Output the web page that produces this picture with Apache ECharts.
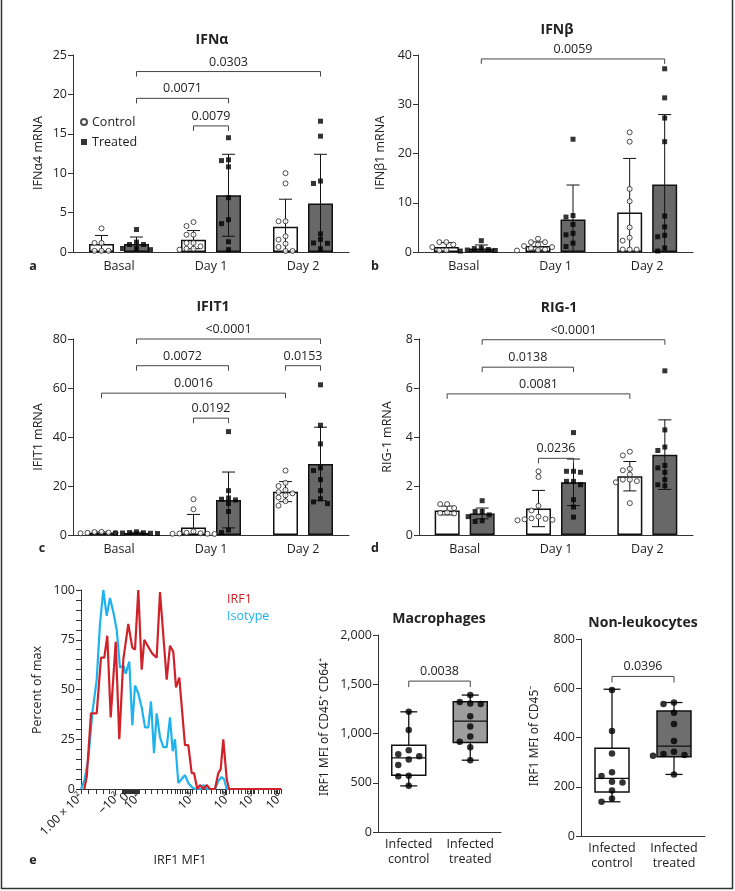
<!DOCTYPE html>
<html><head><meta charset="utf-8">
<script src="https://cdn.jsdelivr.net/npm/echarts@6/dist/echarts.min.js"></script>
<style>html,body{margin:0;padding:0;background:#fff}#c{width:735px;height:891px}</style>
</head><body><div id="c"></div>
<script>
// ---------------- DATA ----------------
const categories = ['Basal', 'Day 1', 'Day 2'];

// Panel a: IFNα
const ifnaCtrlMean = [1.0, 1.57, 3.2];
const ifnaCtrlSD   = [1.1, 1.15, 3.5];
const ifnaTrtMean  = [1.0, 7.2, 6.15];
const ifnaTrtSD    = [0.9, 5.2, 6.25];
const ifnaCtrlPts = [[3.0,1.15,1.15,0.15,0.15,0.15],[3.8,3.3,2.2,2.2,1.15,1.15,0.72,0.42,0.42,0.3],[10.0,8.7,3.9,3.9,2.0,1.57,1.06,0.64,0.13,0.13]];
const ifnaTrtPts  = [[2.85,1.25,0.95,0.95,0.45,0.45,0.3],[14.5,11.7,11.6,10.8,6.9,4.1,3.6,1.3,0.3],[16.6,14.7,9.0,8.7,2.3,1.6,1.15,1.1,0.4]];
const ifnaBrackets = [[1,0,1,1,16.0,'0.0079'],[0,1,1,1,19.5,'0.0071'],[0,1,2,1,22.9,'0.0303']];

// Panel b: IFNβ
const ifnbCtrlMean = [1.0, 1.22, 8.0];
const ifnbCtrlSD   = [0.9, 0.83, 11.0];
const ifnbTrtMean  = [0.7, 6.6, 13.7];
const ifnbTrtSD    = [0.73, 7.0, 14.2];
const ifnbCtrlPts = [[2.0,2.0,1.5,1.0,0.35,0.3],[2.7,2.0,2.0,1.5,1.2,1.0,0.8,0.5,0.4,0.3],[24.3,22.4,12.8,10.3,5.0,2.9,2.3,0.5,0.5,0.5]];
const ifnbTrtPts  = [[2.3,0.8,0.7,0.5,0.4,0.3,0.2],[22.9,7.4,7.1,5.6,3.8,3.5,1.8,1.1],[37.2,31.3,27.2,22.4,7.3,5.1,3.4,3.1,0.8,0.2]];
const ifnbBrackets = [[0,1,2,1,39.2,'0.0059']];

// Panel c: IFIT1
const ifitCtrlMean = [0.95, 3.1, 17.7];
const ifitCtrlSD   = [0.3, 5.3, 4.1];
const ifitTrtMean  = [0.85, 14.3, 29.0];
const ifitTrtSD    = [0.3, 11.4, 15.0];
const ifitCtrlPts = [[1.3,1.2,1.0,0.9,0.8,0.7],[14.6,10.5,1.5,0.9,0.7,0.6,0.5,0.5,0.4,0.4],[26.3,21.3,20.0,18.4,17.5,17.0,16.2,15.3,13.8,12.0]];
const ifitTrtPts  = [[1.3,1.0,0.9,0.8,0.7,0.7,0.6],[42.2,18.1,15.1,14.6,14.3,12.8,9.6,2.0,1.0],[61.3,44.8,37.2,27.4,26.3,22.6,18.1,14.8,13.5,12.8]];
const ifitBrackets = [[1,0,1,1,47.7,'0.0192'],[0,0,2,0,57.9,'0.0016'],[0,1,1,1,69.1,'0.0072'],[2,0,2,1,69.1,'0.0153'],[0,1,2,1,80,'<0.0001']];

// Panel d: RIG-1
const rigCtrlMean = [1.0, 1.08, 2.4];
const rigCtrlSD   = [0.18, 0.74, 0.6];
const rigTrtMean  = [0.88, 2.15, 3.28];
const rigTrtSD    = [0.22, 0.95, 1.42];
const rigCtrlPts = [[1.26,1.26,1.1,0.92,0.9,0.88],[2.6,2.37,1.19,1.0,0.75,0.68,0.66,0.64,0.62,0.6],[3.4,3.25,2.7,2.64,2.47,2.26,2.26,2.2,2.15,1.3]];
const rigTrtPts  = [[1.4,0.96,0.96,0.82,0.75,0.58,0.55],[4.18,2.6,2.6,2.56,2.19,2.19,2.05,1.44,1.14,0.73],[6.7,4.29,3.59,3.45,2.84,2.74,2.56,2.26,2.05,2.01]];
const rigBrackets = [[1,0,1,1,3.13,'0.0236'],[0,0,2,0,5.76,'0.0081'],[0,1,1,1,6.85,'0.0138'],[0,1,2,1,7.97,'<0.0001']];

// Panel e: histogram (channel position along axis, percent of max)
const irf1X = [3.3,5.7,10,15.7,20,23.3,26.3,29.7,34.7,38.3,42.3,47.3,51.3,54,57.3,60.7,63.3,66.7,71.3,75.7,79,85.7,89,92.3,95,98.3,104,107.3,110.7,113,116.3,119,122.3,125.7,129,134,137.3,139.7,142.3,145.7,148,200];
const irf1Y = [0,6,38,38,66,66,77,36,74,25,65,83,71,70,100,60,75,72,68,66,99,55,72,69,51,56,22,22,8,8,0,2,0,2,0,0,8,10,25,5,0,0];
const isoX = [0,3.3,7.3,11.3,15.7,19,22.3,25.7,29,32.3,35.7,39,42.3,44.7,48.3,51.3,54,57.3,60.7,64,67.3,70,73,75.7,79,82.3,85.7,89,91.7,94,97.3,100.7,104,107.3,110.7,114,120.7,122.3,125.7,134,137.3,140.7,143,145.7,200];
const isoY = [0,4,15,38,55,83,100,87,96,89,80,61,62,58,64,32,52,48,41,31,31,44,18,38,26,21,21,36,19,25,3,5,7,3,1,0,0,2,0,0,4,6,5,0,0];
const histLabelPos = [0, 37, 46, 58, 112, 148, 173, 200];
const histLabels = ['1.00 × 10²', '−10²', '0', '10²', '10³', '10⁴', '10⁵', '10⁶'];
const histMinorTicks = [0,7.3,15,22.3,28.3,34,64,70.7,76.3,81.7,86.3,90.7,94,96.3,99,101.7,104,106.3,109,111.7,115.7,120.7,125.7,130.7,135.7,139,141.7,144,145.7,148.3,152.3,157.3,160.7,164,166.3,169,170.7,172.3,173.3,177.3,182.3,187.3,190.7,193,195,196.3,198,200];
const histLinearRegion = [41.5, 58.5];
const histYLabels = [0, 25, 50, 75, 100];

// Panels f/g: box plots
const boxCategories = ['Infected\ncontrol', 'Infected\ntreated'];
const macroCtrlBox = [468, 576, 753, 881, 1220];   // min, q1, median, q3, max
const macroTrtBox  = [729, 908, 1125, 1322, 1390];
const macroCtrlPts = [1220, 1035, 830, 790, 770, 735, 680, 570, 565, 470];
const macroTrtPts  = [1390, 1320, 1305, 1300, 1175, 1070, 970, 915, 860, 728];
const macroBracket = [1532, '0.0038'];
const nonCtrlBox = [139, 179, 234, 356, 596];
const nonTrtBox  = [250, 322, 365, 508, 542];
const nonCtrlPts = [593, 426, 335, 259, 244, 220, 217, 185, 152, 139];
const nonTrtPts  = [542, 536, 501, 455, 386, 342, 333, 329, 326, 250];
const nonBracket = [648, '0.0396'];

// ---------------- STYLE / LAYOUT ----------------
const FONT = 'Open Sans';
const SUPFONT = 'Noto Sans';
const AX = '#333';
const TXT = '#222';
const BAR_W = 25, BAR_GAP = 0.4;
const TRT_FILL = '#686868';

const chart = echarts.init(document.getElementById('c'), null, {renderer: 'canvas', width: 735, height: 891});
const grids = [], xAxes = [], yAxes = [], series = [], graphic = [];

function yAxisDef(gi, max, interval, fmt) {
  return {type: 'value', gridIndex: gi, min: 0, max: max, interval: interval,
    axisLine: {show: true, lineStyle: {color: AX, width: 1}},
    axisTick: {show: true, length: 5, lineStyle: {color: AX}},
    axisLabel: {fontSize: 12.5, color: TXT, fontFamily: FONT, margin: 6, formatter: fmt},
    splitLine: {show: false}};
}

function swarm(values, center, xPerPx, yPerPx, stepPx, symPx) {
  const placed = [];
  const order = [0, -1, 1, -2, 2, -3, 3];
  values.forEach(v => {
    for (const s of order) {
      const ok = placed.every(q => q.s !== s || Math.abs(q.v - v) / yPerPx >= symPx);
      if (ok) { placed.push({v: v, s: s}); break; }
    }
  });
  return placed.map(q => [center + q.s * stepPx * xPerPx, q.v]);
}

function bracketSeries(xi, yi, list, tick, gap) {
  return {type: 'custom', xAxisIndex: xi, yAxisIndex: yi, z: 6, silent: true, clip: false,
    data: list.map(b => [b.x1, b.x2, b.y]),
    renderItem: function (params, api) {
      const b = list[params.dataIndex];
      const p1 = api.coord([api.value(0), api.value(2)]);
      const p2 = api.coord([api.value(1), api.value(2)]);
      return {type: 'group', children: [
        {type: 'polyline', shape: {points: [[p1[0], p1[1] + tick], [p1[0], p1[1]], [p2[0], p2[1]], [p2[0], p2[1] + tick]]},
          style: {stroke: '#444', lineWidth: 1, fill: null}},
        {type: 'text', style: {text: b.label, x: (p1[0] + p2[0]) / 2, y: p1[1] - gap, align: 'center', verticalAlign: 'middle',
          fontSize: 12.5, fontFamily: FONT, fill: TXT}}
      ]};
    }};
}

function errRender(params, api) {
  const x = api.value(0), m = api.value(1), sd = api.value(2);
  const hi = api.coord([x, m + sd]);
  const loV = m - sd;
  const lo = api.coord([x, Math.max(loV, 0)]);
  const cw = 6.5;
  const st = {stroke: '#111', lineWidth: 1};
  const ch = [
    {type: 'line', shape: {x1: hi[0], y1: hi[1], x2: lo[0], y2: lo[1]}, style: st},
    {type: 'line', shape: {x1: hi[0] - cw, y1: hi[1], x2: hi[0] + cw, y2: hi[1]}, style: st}];
  if (loV > 0) ch.push({type: 'line', shape: {x1: lo[0] - cw, y1: lo[1], x2: lo[0] + cw, y2: lo[1]}, style: st});
  return {type: 'group', children: ch};
}

function text(x, y, str, opt) {
  opt = opt || {};
  graphic.push({type: 'text', x: x, y: y, rotation: opt.rot || 0, z: 10, silent: true,
    style: {text: str, align: opt.align || 'center', verticalAlign: 'middle', fontSize: opt.size || 12.5,
      fontWeight: opt.bold ? 'bold' : 'normal', fontFamily: opt.font || FONT, fill: opt.color || TXT}});
}

function addBarPanel(p) {
  const gi = grids.length;
  grids.push({left: p.left, top: p.top, width: p.width, height: p.height});
  const xc = xAxes.length;
  xAxes.push({type: 'category', gridIndex: gi, data: categories, boundaryGap: true,
    axisLine: {lineStyle: {color: AX}}, axisTick: {length: 5, lineStyle: {color: AX}},
    axisLabel: {interval: 0, fontSize: 12.5, color: TXT, fontFamily: FONT, margin: 8}});
  const xv = xAxes.length;
  xAxes.push({type: 'value', gridIndex: gi, min: 0, max: categories.length, show: false});
  const yi = yAxes.length;
  yAxes.push(yAxisDef(gi, p.yMax, p.yInterval));
  const catPx = p.width / categories.length;
  const off = (BAR_W * (1 + BAR_GAP)) / 2 / catPx;
  const xPerPx = 1 / catPx, yPerPx = p.yMax / p.height;
  series.push({name: p.id + ' control mean', type: 'bar', xAxisIndex: xc, yAxisIndex: yi, data: p.ctrlMean,
    barWidth: BAR_W, barGap: (BAR_GAP * 100) + '%', z: 2, silent: true,
    itemStyle: {color: '#fff', borderColor: '#111', borderWidth: 1.5}});
  series.push({name: p.id + ' treated mean', type: 'bar', xAxisIndex: xc, yAxisIndex: yi, data: p.trtMean,
    barWidth: BAR_W, barGap: (BAR_GAP * 100) + '%', z: 2, silent: true,
    itemStyle: {color: TRT_FILL, borderColor: '#111', borderWidth: 1.5}});
  const err = [];
  categories.forEach((c, i) => {
    err.push([i + 0.5 - off, p.ctrlMean[i], p.ctrlSD[i]]);
    err.push([i + 0.5 + off, p.trtMean[i], p.trtSD[i]]);
  });
  series.push({type: 'custom', xAxisIndex: xv, yAxisIndex: yi, z: 3, silent: true, clip: false, data: err, renderItem: errRender});
  const cp = [], tp = [];
  categories.forEach((c, i) => {
    cp.push(...swarm(p.ctrlPts[i], i + 0.5 - off, xPerPx, yPerPx, 7, 5));
    tp.push(...swarm(p.trtPts[i], i + 0.5 + off, xPerPx, yPerPx, 7, 5.5));
  });
  series.push({name: 'Control', type: 'scatter', xAxisIndex: xv, yAxisIndex: yi, data: cp, symbol: 'circle', symbolSize: 5,
    itemStyle: {color: '#fff', borderColor: '#222', borderWidth: 1}, z: 4, silent: true});
  series.push({name: 'Treated', type: 'scatter', xAxisIndex: xv, yAxisIndex: yi, data: tp, symbol: 'rect', symbolSize: 5,
    itemStyle: {color: '#000'}, z: 4, silent: true});
  const gx = (cat, g) => cat + 0.5 + (g ? off : -off);
  series.push(bracketSeries(xv, yi, p.brackets.map(b => ({x1: gx(b[0], b[1]), x2: gx(b[2], b[3]), y: b[4], label: b[5]})), 5, 9.5));
}

function addBoxPanel(p) {
  const gi = grids.length;
  grids.push({left: p.left, top: p.top, width: p.width, height: p.height});
  const xc = xAxes.length;
  xAxes.push({type: 'category', gridIndex: gi, data: boxCategories, boundaryGap: true,
    axisLine: {lineStyle: {color: AX}}, axisTick: {length: 5, lineStyle: {color: AX}},
    axisLabel: {interval: 0, fontSize: 12.5, color: TXT, fontFamily: FONT, margin: 5, lineHeight: 15}});
  const xv = xAxes.length;
  xAxes.push({type: 'value', gridIndex: gi, min: 0, max: 2, show: false});
  const yi = yAxes.length;
  yAxes.push(yAxisDef(gi, p.yMax, p.yInterval, v => v.toLocaleString('en-US')));
  const catPx = p.width / 2;
  const xPerPx = 1 / catPx, yPerPx = p.yMax / p.height;
  const fills = ['#fff', p.trtFill];
  series.push({type: 'custom', xAxisIndex: xv, yAxisIndex: yi, z: 2, silent: true, clip: false,
    data: [[0.5].concat(p.ctrlBox), [1.5].concat(p.trtBox)],
    renderItem: function (params, api) {
      const x = api.value(0);
      const pm = k => api.coord([x, api.value(k)]);
      const mn = pm(1), q1 = pm(2), md = pm(3), q3 = pm(4), mx = pm(5);
      const hw = 17, cw = 8.5;
      const st = {stroke: '#111', lineWidth: 1.3};
      return {type: 'group', children: [
        {type: 'line', shape: {x1: mx[0], y1: mx[1], x2: q3[0], y2: q3[1]}, style: st},
        {type: 'line', shape: {x1: mn[0], y1: mn[1], x2: q1[0], y2: q1[1]}, style: st},
        {type: 'line', shape: {x1: mx[0] - cw, y1: mx[1], x2: mx[0] + cw, y2: mx[1]}, style: st},
        {type: 'line', shape: {x1: mn[0] - cw, y1: mn[1], x2: mn[0] + cw, y2: mn[1]}, style: st},
        {type: 'rect', shape: {x: q3[0] - hw, y: q3[1], width: hw * 2, height: q1[1] - q3[1]},
          style: {fill: fills[params.dataIndex], stroke: '#111', lineWidth: 1.5}},
        {type: 'line', shape: {x1: md[0] - hw, y1: md[1], x2: md[0] + hw, y2: md[1]}, style: st}
      ]};
    }});
  const pts = swarm(p.ctrlPts, 0.5, xPerPx, yPerPx, 10.5, 7).concat(swarm(p.trtPts, 1.5, xPerPx, yPerPx, 10.5, 7));
  series.push({name: p.id + ' points', type: 'scatter', xAxisIndex: xv, yAxisIndex: yi, data: pts, symbol: 'circle',
    symbolSize: 6.5, itemStyle: {color: '#000'}, z: 4, silent: true});
  series.push(bracketSeries(xv, yi, [{x1: 0.5, x2: 1.5, y: p.bracket[0], label: p.bracket[1]}], 6, 9.5));
}

// ---------------- PANELS ----------------
addBarPanel({id: 'a', left: 73, top: 55, width: 276, height: 197, yMax: 25, yInterval: 5,
  ctrlMean: ifnaCtrlMean, ctrlSD: ifnaCtrlSD, trtMean: ifnaTrtMean, trtSD: ifnaTrtSD,
  ctrlPts: ifnaCtrlPts, trtPts: ifnaTrtPts, brackets: ifnaBrackets});
addBarPanel({id: 'b', left: 418, top: 55, width: 275, height: 197, yMax: 40, yInterval: 10,
  ctrlMean: ifnbCtrlMean, ctrlSD: ifnbCtrlSD, trtMean: ifnbTrtMean, trtSD: ifnbTrtSD,
  ctrlPts: ifnbCtrlPts, trtPts: ifnbTrtPts, brackets: ifnbBrackets});
addBarPanel({id: 'c', left: 73, top: 339, width: 276, height: 196, yMax: 80, yInterval: 20,
  ctrlMean: ifitCtrlMean, ctrlSD: ifitCtrlSD, trtMean: ifitTrtMean, trtSD: ifitTrtSD,
  ctrlPts: ifitCtrlPts, trtPts: ifitTrtPts, brackets: ifitBrackets});
addBarPanel({id: 'd', left: 419, top: 339, width: 274, height: 196, yMax: 8, yInterval: 2,
  ctrlMean: rigCtrlMean, ctrlSD: rigCtrlSD, trtMean: rigTrtMean, trtSD: rigTrtSD,
  ctrlPts: rigCtrlPts, trtPts: rigTrtPts, brackets: rigBrackets});

// Histogram (panel e)
(function () {
  const gi = grids.length;
  grids.push({left: 81, top: 590, width: 200, height: 199});
  const ticks = histMinorTicks.slice();
  for (let v = histLinearRegion[0]; v <= histLinearRegion[1]; v += 0.5) ticks.push(v);
  const xi = xAxes.length;
  xAxes.push({type: 'value', gridIndex: gi, min: 0, max: 200,
    axisLine: {lineStyle: {color: AX}},
    axisTick: {show: true, customValues: ticks, length: 5, lineStyle: {color: AX}},
    axisLabel: {customValues: histLabelPos, formatter: v => histLabels[histLabelPos.indexOf(v)] || '',
      rotate: 45, fontSize: 12, color: TXT, fontFamily: SUPFONT, margin: 6},
    splitLine: {show: false}});
  const yi = yAxes.length;
  const yTicks = [];
  for (let v = 0; v <= 100; v += 5) yTicks.push(v);
  yAxes.push({type: 'value', gridIndex: gi, min: 0, max: 100,
    axisLine: {show: true, lineStyle: {color: AX}},
    axisTick: {show: true, customValues: yTicks, length: 5, lineStyle: {color: AX}},
    axisLabel: {customValues: histYLabels, fontSize: 12.5, color: TXT, fontFamily: FONT, margin: 6},
    splitLine: {show: false}});
  series.push({name: 'Isotype', type: 'line', xAxisIndex: xi, yAxisIndex: yi, showSymbol: false, silent: true,
    data: isoX.map((x, i) => [x, isoY[i]]), lineStyle: {color: '#1eb3ee', width: 2.2}, z: 3});
  series.push({name: 'IRF1', type: 'line', xAxisIndex: xi, yAxisIndex: yi, showSymbol: false, silent: true,
    data: irf1X.map((x, i) => [x, irf1Y[i]]), lineStyle: {color: '#cf2229', width: 2.2}, z: 4});
})();

addBoxPanel({id: 'Macrophages', left: 378, top: 635, width: 123, height: 197, yMax: 2000, yInterval: 500,
  ctrlBox: macroCtrlBox, trtBox: macroTrtBox, ctrlPts: macroCtrlPts, trtPts: macroTrtPts, trtFill: '#9d9d9d', bracket: macroBracket});
addBoxPanel({id: 'Non-leukocytes', left: 581, top: 639, width: 124, height: 197, yMax: 800, yInterval: 200,
  ctrlBox: nonCtrlBox, trtBox: nonTrtBox, ctrlPts: nonCtrlPts, trtPts: nonTrtPts, trtFill: '#6e6e6e', bracket: nonBracket});

// ---------------- TEXT ----------------
text(212, 40, 'IFNα', {bold: true, size: 14});
text(557, 30, 'IFNβ', {bold: true, size: 14});
text(213, 307, 'IFIT1', {bold: true, size: 14});
text(559, 308, 'RIG-1', {bold: true, size: 14});
text(439, 619, 'Macrophages', {bold: true, size: 14});
text(643, 623, 'Non-leukocytes', {bold: true, size: 14});

text(38, 153, 'IFNα4 mRNA', {rot: Math.PI / 2});
text(380, 153, 'IFNβ1 mRNA', {rot: Math.PI / 2});
text(38, 437, 'IFIT1 mRNA', {rot: Math.PI / 2});
text(387, 437, 'RIG-1 mRNA', {rot: Math.PI / 2});
text(37, 690, 'Percent of max', {rot: Math.PI / 2});
text(325, 727, 'IRF1 MFI of CD45⁺ CD64⁺', {rot: Math.PI / 2, font: SUPFONT, size: 12});
text(535, 736, 'IRF1 MFI of CD45⁻', {rot: Math.PI / 2, font: SUPFONT, size: 12});
text(180, 860, 'IRF1 MF1');

text(33, 266, 'a', {bold: true});
text(375, 266, 'b', {bold: true});
text(42, 548, 'c', {bold: true});
text(375, 548, 'd', {bold: true});
text(33, 860, 'e', {bold: true});

text(227, 599, 'IRF1', {align: 'left', color: '#cf2229'});
text(227, 616, 'Isotype', {align: 'left', color: '#1eb3ee'});

// frame
graphic.push({type: 'rect', silent: true, z: 20, shape: {x: 1.5, y: -5, width: 731, height: 893.5},
  style: {fill: null, stroke: '#333', lineWidth: 1.5}});

chart.setOption({
  animation: false,
  backgroundColor: '#fff',
  textStyle: {fontFamily: FONT},
  legend: {left: 80, top: 115, orient: 'vertical', itemWidth: 6, itemHeight: 6, itemGap: 6, padding: 0,
    selectedMode: false, data: [{name: 'Control', icon: 'circle'}, {name: 'Treated', icon: 'rect'}],
    textStyle: {fontSize: 12.5, fontFamily: FONT, color: TXT, lineHeight: 14}},
  grid: grids, xAxis: xAxes, yAxis: yAxes, series: series, graphic: graphic
});
</script></body></html>
